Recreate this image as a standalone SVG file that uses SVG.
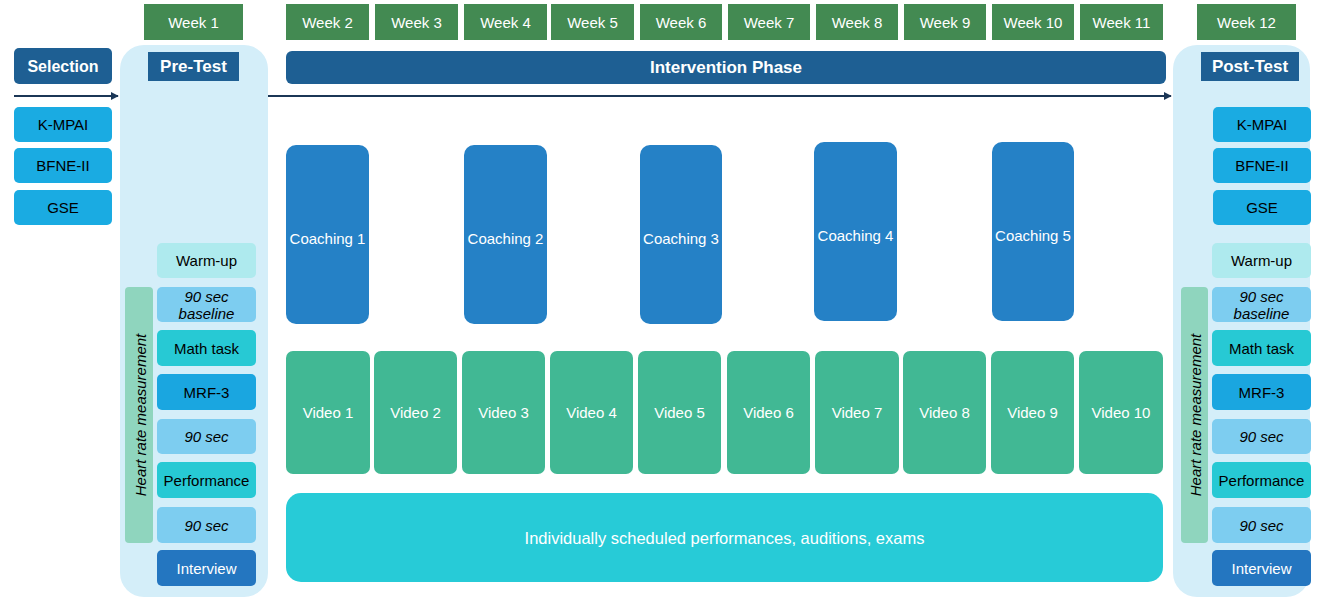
<svg xmlns="http://www.w3.org/2000/svg" width="1325" height="609" viewBox="0 0 1325 609">
<defs>
<style>
text{font-family:"Liberation Sans",Arial,sans-serif;font-size:15px;text-anchor:middle;dominant-baseline:central}
.wk{fill:#438a52}
.wt{fill:#fff}
.bt{fill:#000}
.hd{fill:#1e5f93}
.hdt{fill:#fff;font-weight:bold;font-size:16px}
.big{font-size:17px}
.q{fill:#1aabe2}
.cont{fill:#d4eef9}
.warm{fill:#aeeaee}
.sec{fill:#7dcdf0}
.math{fill:#27c9d4}
.mrf{fill:#1aa6e0}
.iv{fill:#2476c0}
.hr{fill:#8fd5be}
.co{fill:#2581c6}
.vi{fill:#41b894}
.ind{fill:#27cbd7}
.it{font-style:italic}
.ln{stroke:#1b3656;stroke-width:2;fill:none}
</style>
<marker id="ah" viewBox="0 0 10 10" refX="9" refY="5" markerWidth="4" markerHeight="4" orient="auto"><path d="M0,0L10,5L0,10z" fill="#1b3656"/></marker>
</defs>
<g id="weeks">
<rect class="wk" x="144" y="4" width="99" height="36"/><text class="wt" x="193.5" y="22">Week 1</text>
<rect class="wk" x="286" y="4" width="83" height="36"/><text class="wt" x="327.5" y="22">Week 2</text>
<rect class="wk" x="375" y="4" width="83" height="36"/><text class="wt" x="416.5" y="22">Week 3</text>
<rect class="wk" x="464" y="4" width="83" height="36"/><text class="wt" x="505.5" y="22">Week 4</text>
<rect class="wk" x="551" y="4" width="83" height="36"/><text class="wt" x="592.5" y="22">Week 5</text>
<rect class="wk" x="640" y="4" width="82" height="36"/><text class="wt" x="681" y="22">Week 6</text>
<rect class="wk" x="728" y="4" width="82" height="36"/><text class="wt" x="769" y="22">Week 7</text>
<rect class="wk" x="816" y="4" width="82" height="36"/><text class="wt" x="857" y="22">Week 8</text>
<rect class="wk" x="904" y="4" width="82" height="36"/><text class="wt" x="945" y="22">Week 9</text>
<rect class="wk" x="992" y="4" width="82" height="36"/><text class="wt" x="1033" y="22">Week 10</text>
<rect class="wk" x="1080" y="4" width="83" height="36"/><text class="wt" x="1121.5" y="22">Week 11</text>
<rect class="wk" x="1197" y="4" width="99" height="36"/><text class="wt" x="1246.5" y="22">Week 12</text>
</g>
<g id="selection">
<rect class="hd" x="14" y="48" width="98" height="36" rx="5"/><text class="hdt" x="63" y="66">Selection</text>
<rect class="q" x="14" y="107" width="98" height="35" rx="5"/><text class="bt" x="63" y="124.5">K-MPAI</text>
<rect class="q" x="14" y="148" width="98" height="35" rx="5"/><text class="bt" x="63" y="165.5">BFNE-II</text>
<rect class="q" x="14" y="190" width="98" height="35" rx="5"/><text class="bt" x="63" y="207.5">GSE</text>
</g>
<g id="pretest">
<rect class="cont" x="120" y="45" width="148" height="552" rx="24"/>
<rect class="hd" x="148" y="52" width="91" height="29"/><text class="hdt big" x="193.5" y="66.5">Pre-Test</text>
<rect class="warm" x="157" y="243" width="99" height="35" rx="5"/><text class="bt" x="206.5" y="260.5">Warm-up</text>
<rect class="hr" x="125" y="287" width="28" height="256" rx="4"/><text class="bt it" transform="translate(140,415) rotate(-90)">Heart rate measurement</text>
<rect class="sec" x="157" y="287" width="99" height="35" rx="5"/><text class="bt it" x="206.5" y="296">90 sec</text><text class="bt it" x="206.5" y="313">baseline</text>
<rect class="math" x="157" y="330" width="99" height="36" rx="5"/><text class="bt" x="206.5" y="348">Math task</text>
<rect class="mrf" x="157" y="374" width="99" height="36" rx="5"/><text class="bt" x="206.5" y="392">MRF-3</text>
<rect class="sec" x="157" y="419" width="99" height="35" rx="5"/><text class="bt it" x="206.5" y="436.5">90 sec</text>
<rect class="math" x="157" y="462" width="99" height="36" rx="5"/><text class="bt" x="206.5" y="480">Performance</text>
<rect class="sec" x="157" y="507" width="99" height="36" rx="5"/><text class="bt it" x="206.5" y="525">90 sec</text>
<rect class="iv" x="157" y="550" width="99" height="36" rx="5"/><text class="wt" x="206.5" y="568">Interview</text>
</g>
<g id="intervention">
<rect class="hd" x="286" y="51" width="880" height="33" rx="6"/><text class="hdt big" x="726" y="67.5">Intervention Phase</text>
</g>
<g id="coaching">
<rect class="co" x="286" y="145" width="83" height="179" rx="10"/><text class="wt" x="327.5" y="238">Coaching 1</text>
<rect class="co" x="464" y="145" width="83" height="179" rx="10"/><text class="wt" x="505.5" y="238">Coaching 2</text>
<rect class="co" x="640" y="145" width="82" height="179" rx="10"/><text class="wt" x="681" y="238">Coaching 3</text>
<rect class="co" x="814" y="142" width="83" height="179" rx="10"/><text class="wt" x="855.5" y="235">Coaching 4</text>
<rect class="co" x="992" y="142" width="82" height="179" rx="10"/><text class="wt" x="1033" y="235">Coaching 5</text>
</g>
<g id="videos">
<rect class="vi" x="286" y="351" width="84" height="123" rx="7"/><text class="wt" x="328" y="412">Video 1</text>
<rect class="vi" x="374" y="351" width="83" height="123" rx="7"/><text class="wt" x="415.5" y="412">Video 2</text>
<rect class="vi" x="462" y="351" width="83" height="123" rx="7"/><text class="wt" x="503.5" y="412">Video 3</text>
<rect class="vi" x="550" y="351" width="83" height="123" rx="7"/><text class="wt" x="591.5" y="412">Video 4</text>
<rect class="vi" x="638" y="351" width="83" height="123" rx="7"/><text class="wt" x="679.5" y="412">Video 5</text>
<rect class="vi" x="727" y="351" width="83" height="123" rx="7"/><text class="wt" x="768.5" y="412">Video 6</text>
<rect class="vi" x="815" y="351" width="84" height="123" rx="7"/><text class="wt" x="857" y="412">Video 7</text>
<rect class="vi" x="903" y="351" width="83" height="123" rx="7"/><text class="wt" x="944.5" y="412">Video 8</text>
<rect class="vi" x="991" y="351" width="83" height="123" rx="7"/><text class="wt" x="1032.5" y="412">Video 9</text>
<rect class="vi" x="1079" y="351" width="84" height="123" rx="7"/><text class="wt" x="1121" y="412">Video 10</text>
</g>
<g id="individual">
<rect class="ind" x="286" y="493" width="877" height="89" rx="15"/><text class="wt" x="724.5" y="538" style="font-size:16.5px">Individually scheduled performances, auditions, exams</text>
</g>
<g id="posttest">
<rect class="cont" x="1173" y="45" width="137" height="552" rx="24"/>
<rect class="hd" x="1201" y="52" width="98" height="29"/><text class="hdt big" x="1250" y="66.5">Post-Test</text>
<rect class="q" x="1213" y="107" width="98" height="35" rx="5"/><text class="bt" x="1262" y="124.5">K-MPAI</text>
<rect class="q" x="1213" y="148" width="98" height="35" rx="5"/><text class="bt" x="1262" y="165.5">BFNE-II</text>
<rect class="q" x="1213" y="190" width="98" height="35" rx="5"/><text class="bt" x="1262" y="207.5">GSE</text>
<rect class="warm" x="1212" y="243" width="99" height="35" rx="5"/><text class="bt" x="1261.5" y="260.5">Warm-up</text>
<rect class="hr" x="1181" y="287" width="27" height="256" rx="4"/><text class="bt it" transform="translate(1195,415) rotate(-90)">Heart rate measurement</text>
<rect class="sec" x="1212" y="287" width="99" height="35" rx="5"/><text class="bt it" x="1261.5" y="296">90 sec</text><text class="bt it" x="1261.5" y="313">baseline</text>
<rect class="math" x="1212" y="330" width="99" height="36" rx="5"/><text class="bt" x="1261.5" y="348">Math task</text>
<rect class="mrf" x="1212" y="374" width="99" height="36" rx="5"/><text class="bt" x="1261.5" y="392">MRF-3</text>
<rect class="sec" x="1212" y="419" width="99" height="35" rx="5"/><text class="bt it" x="1261.5" y="436.5">90 sec</text>
<rect class="math" x="1212" y="462" width="99" height="36" rx="5"/><text class="bt" x="1261.5" y="480">Performance</text>
<rect class="sec" x="1212" y="507" width="99" height="36" rx="5"/><text class="bt it" x="1261.5" y="525">90 sec</text>
<rect class="iv" x="1212" y="550" width="99" height="36" rx="5"/><text class="wt" x="1261.5" y="568">Interview</text>
</g>
<g id="connectors">
<line class="ln" x1="14" y1="96" x2="118" y2="96" marker-end="url(#ah)"/>
<line class="ln" x1="268" y1="96" x2="1171" y2="96" marker-end="url(#ah)"/>
</g>
</svg>
